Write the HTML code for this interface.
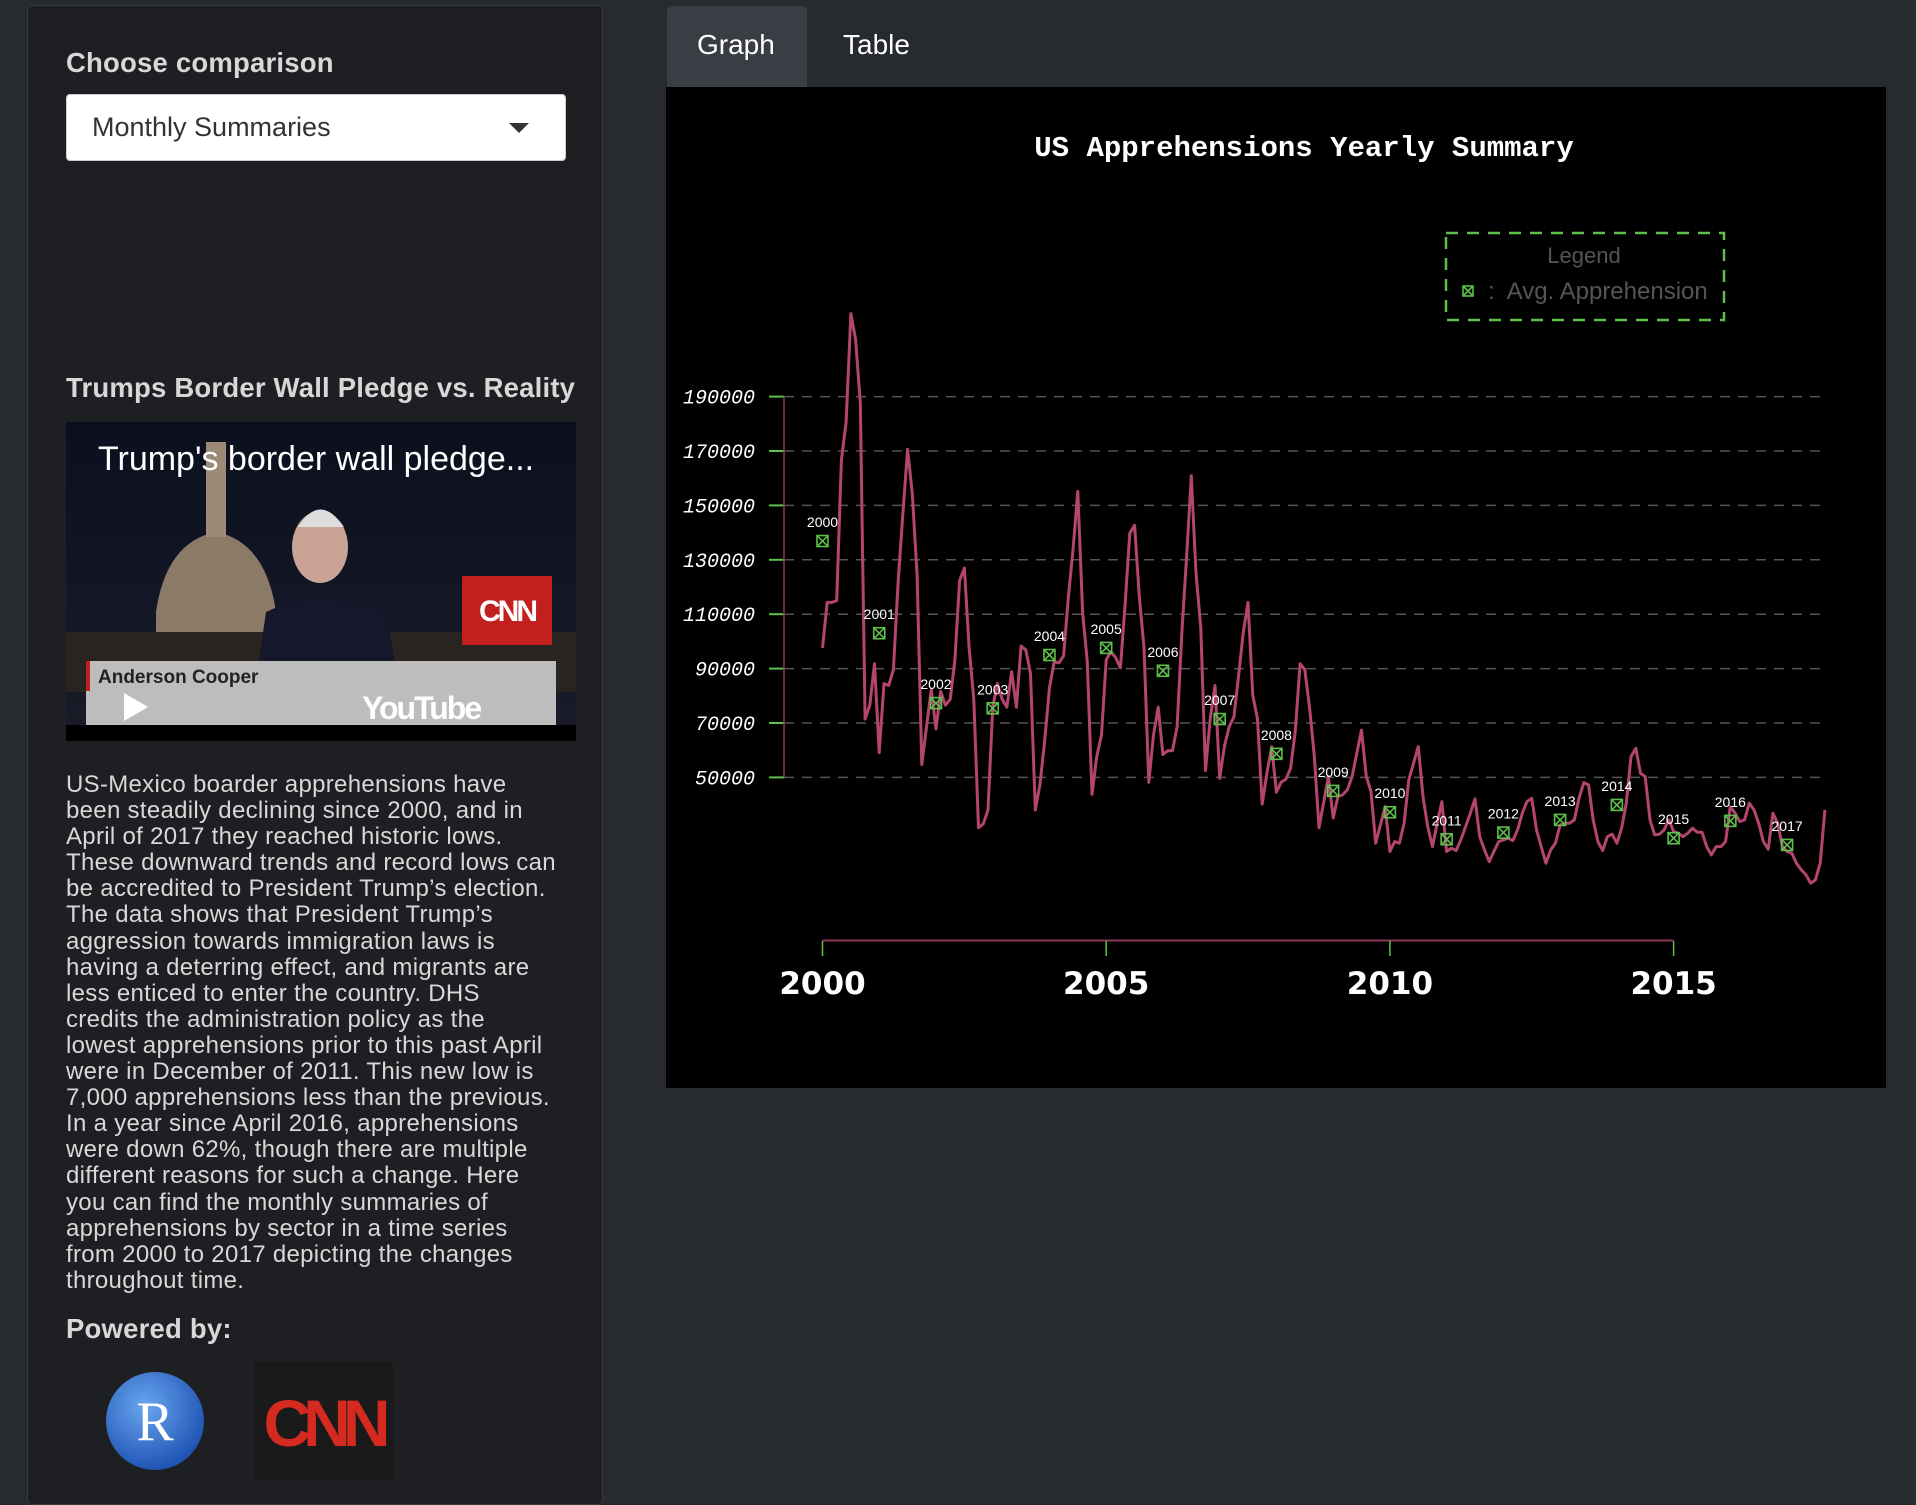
<!DOCTYPE html>
<html><head><meta charset="utf-8">
<style>
html,body{margin:0;padding:0;}
body{width:1916px;height:1492px;background:#272a2f;position:relative;overflow:hidden;font-family:"Liberation Sans",sans-serif;}
.abs{position:absolute;}
#panel{left:27px;top:5px;width:576px;height:1500px;background:#1e1f23;border:1px solid #38393d;border-radius:5px;box-sizing:border-box;}
.h{color:#d8d8d8;font-weight:bold;font-size:27.5px;letter-spacing:0.2px;}
#select{left:66px;top:94px;width:500px;height:67px;background:#fff;border-radius:4px;border:1px solid #ccc;box-sizing:border-box;}
#select span{position:absolute;left:25px;top:17px;font-size:27px;color:#333;letter-spacing:0px;}
#select i{position:absolute;right:36px;top:28px;width:0;height:0;border-left:10px solid transparent;border-right:10px solid transparent;border-top:10px solid #333;}
#para{left:66px;top:772px;width:540px;color:#d8d8d8;font-size:24px;line-height:26.1px;letter-spacing:0.3px;white-space:nowrap;}
#tabgraph{left:667px;top:6px;width:140px;height:81px;background:#3a3e44;border-radius:5px 5px 0 0;}
.tab{color:#fff;font-size:28px;letter-spacing:0px;}
#chart{left:666px;top:87px;width:1220px;height:1001px;background:#000;}
</style></head>
<body>
<div id="panel" class="abs"></div>
<div class="abs h" style="left:66px;top:47px;">Choose comparison</div>
<div id="select" class="abs"><span>Monthly Summaries</span><i></i></div>
<div class="abs h" style="left:66px;top:372px;">Trumps Border Wall Pledge vs. Reality</div>

<svg class="abs" style="left:66px;top:422px" width="510" height="319">
  <defs><linearGradient id="sky" x1="0" y1="0" x2="0" y2="1"><stop offset="0" stop-color="#0b0f1e"/><stop offset="1" stop-color="#1a1c2a"/></linearGradient></defs>
  <rect width="510" height="319" fill="url(#sky)"/>
  <path d="M90 330 L90 190 Q100 120 150 110 Q200 120 210 190 L210 330Z" fill="#8a7a66"/>
  <rect x="140" y="20" width="20" height="95" fill="#9a8a76"/>
  <rect x="0" y="210" width="510" height="60" fill="#2a2420"/>
  <path d="M180 330 L200 190 Q250 165 320 190 L345 330Z" fill="#15182a"/>
  <ellipse cx="254" cy="125" rx="28" ry="36" fill="#c9a393"/>
  <path d="M232 105 Q254 70 278 105Z" fill="#ddd"/>
  <rect x="396" y="154" width="90" height="69" fill="#c2201f"/>
  <text x="441" y="199" font-family="Liberation Sans" font-size="30" font-weight="bold" fill="#fff" text-anchor="middle" letter-spacing="-3">CNN</text>
  <rect x="20" y="239" width="470" height="64" fill="#bdbdbd"/>
  <rect x="20" y="239" width="4" height="30" fill="#c2201f"/>
  <text x="32" y="48" font-family="Liberation Sans" font-size="34" fill="#fff" letter-spacing="0">Trump's border wall pledge...</text>
  <text x="32" y="261" font-family="Liberation Sans" font-size="19" font-weight="bold" fill="#222">Anderson Cooper</text>
  <path d="M58 271 L58 299 L82 285Z" fill="#fff"/>
  <text x="296" y="297" font-family="Liberation Sans" font-size="32" font-weight="bold" fill="#fff" letter-spacing="-2">YouTube</text>
  <rect x="0" y="303" width="510" height="16" fill="#000"/>
</svg>

<div id="para" class="abs">US-Mexico boarder apprehensions have<br>been steadily declining since 2000, and in<br>April of 2017 they reached historic lows.<br>These downward trends and record lows can<br>be accredited to President Trump’s election.<br>The data shows that President Trump’s<br>aggression towards immigration laws is<br>having a deterring effect, and migrants are<br>less enticed to enter the country. DHS<br>credits the administration policy as the<br>lowest apprehensions prior to this past April<br>were in December of 2011. This new low is<br>7,000 apprehensions less than the previous.<br>In a year since April 2016, apprehensions<br>were down 62%, though there are multiple<br>different reasons for such a change. Here<br>you can find the monthly summaries of<br>apprehensions by sector in a time series<br>from 2000 to 2017 depicting the changes<br>throughout time.</div>
<div class="abs h" style="left:66px;top:1313px;">Powered by:</div>
<svg class="abs" style="left:104px;top:1370px" width="102" height="102">
  <defs><radialGradient id="rg" cx="0.4" cy="0.35" r="0.7"><stop offset="0" stop-color="#6aa6f0"/><stop offset="1" stop-color="#1a4fb0"/></radialGradient></defs>
  <circle cx="51" cy="51" r="49" fill="url(#rg)"/>
  <text x="51" y="70" font-family="Liberation Serif" font-size="56" fill="#fff" text-anchor="middle">R</text>
</svg>
<svg class="abs" style="left:254px;top:1362px" width="139" height="119">
  <rect width="139" height="119" fill="#1a1a1a"/>
  <text x="69" y="84" font-family="Liberation Sans" font-size="66" font-weight="bold" fill="#d42a20" text-anchor="middle" letter-spacing="-8">CNN</text>
</svg>

<div id="tabgraph" class="abs"></div>
<div class="abs tab" style="left:697px;top:29px;">Graph</div>
<div class="abs tab" style="left:843px;top:29px;">Table</div>
<div id="chart" class="abs"></div>

<svg id="svg" class="abs" style="left:0;top:0" width="1916" height="1492">
  <text x="1304" y="156" font-family="Liberation Mono" font-weight="bold" font-size="29" fill="#fff" text-anchor="middle">US Apprehensions Yearly Summary</text>
  <g>
    <rect x="1446" y="233" width="278" height="87" fill="none" stroke="#5cc04a" stroke-width="2.5" stroke-dasharray="12,9"/>
    <text x="1584" y="263" font-size="22" fill="#555" text-anchor="middle" font-family="Liberation Sans">Legend</text>
    <g transform="translate(1468,291)" stroke="#5cc04a" stroke-width="1.6" fill="none"><rect x="-5" y="-5" width="10" height="10"/><path d="M-5 -5L5 5M5 -5L-5 5"/></g>
    <text x="1488" y="299" font-size="24" fill="#555" font-family="Liberation Sans" xml:space="preserve">:  Avg. Apprehension</text>
  </g>
  <g id="grid"></g><g id="axes"></g><g id="series"></g><g id="marks"></g>
</svg>

<script>
const yTicks = [50000,70000,90000,110000,130000,150000,170000,190000];
const xTickYears = [2000,2005,2010,2015];
const years = [2000,2001,2002,2003,2004,2005,2006,2007,2008,2009,2010,2011,2012,2013,2014,2015,2016,2017];
const yearAvg = [136900,103000,77300,75400,95000,97600,89200,71450,58660,45030,37190,27260,29710,34370,39880,27640,34000,25180];
const monthly2000to2004 = [97600,114350,114350,115000,166700,180500,220500,211000,187800,71450,76550,91800,
59100,84500,83800,89600,122300,147100,170600,154300,124500,54700,68550,82350,
67800,81600,76550,78700,93250,122300,127000,97600,78700,31500,32900,38000,
75800,84500,78700,75800,88900,75800,98300,96900,88200,38000,47500,63500,
83100,92500,92100,94700,116500,134000,155100,110700,92500,43800,57600,65600];
const monthly2005to2009 = [93250,96200,94000,90300,113600,139800,142700,116500,97600,48200,65600,75800,
58400,59800,59800,68550,103400,131100,160900,125200,104900,52550,71450,83800,
49650,61300,68550,72200,87450,103400,114350,80200,71450,40200,51800,61300,
44550,48200,49350,53300,67100,91800,89600,75800,58400,31500,40900,50350,
35100,42950,43560,45400,50300,58900,67400,50300,44800];
const monthly2009to2017 = [25800,32500,39270,22740,26410,25800,33150,49070,55200,61320,42950,31920,24570,33150,41110,22740,23960,23100,27020,31920,36820,42090,28250,23350,19060,22740,26410,27020,27640,26780,30700,36820,41110,42330,30700,24570,18450,23350,25800,32530,33150,33150,34370,42330,48090,47230,34370,26410,23100,28250,29100,25800,31310,40500,57650,60710,51520,50300,34370,28860,29100,30700,34370,30080,29470,28250,29470,31310,29840,29840,24570,21510,24570,24570,26410,39270,36820,33760,34370,40500,38050,33150,26410,23590,36820,33150,24570,22740,22120,18450,16000,14160,11100,12320,18450,38050];
const monthly = monthly2000to2004.concat(monthly2005to2009, monthly2009to2017);

const NS='http://www.w3.org/2000/svg';
const X0=822.5, PX_YEAR=56.74, Y0=777.4, PX_PER_20K=54.4;
const xYear = y => X0 + (y-2000)*PX_YEAR;
const xMonth = m => X0 + m*PX_YEAR/12;
const yVal = v => Y0 - (v-50000)*PX_PER_20K/20000;
function mk(tag, attrs, parent){const e=document.createElementNS(NS,tag);for(const k in attrs)e.setAttribute(k,attrs[k]);parent.appendChild(e);return e;}

const grid=document.getElementById('grid'), axes=document.getElementById('axes'), series=document.getElementById('series'), marks=document.getElementById('marks');
yTicks.forEach(v=>{
  const y=yVal(v);
  const g=mk('line',{x1:784,x2:1825,y1:y,y2:y,stroke:'#555','stroke-width':1.5,'stroke-dasharray':'10,8'},grid);
  
  
  const t=mk('line',{x1:769,x2:784,y1:y,y2:y,stroke:'#5cc04a','stroke-width':2},axes);
  
  
  const l=mk('text',{x:755,y:y+7,'font-family':'Liberation Mono','font-style':'italic','font-size':20,fill:'#fff','text-anchor':'end'},axes);
  l.textContent=v;
  
  
});
const ya=mk('line',{x1:784,x2:784,y1:yVal(190000),y2:yVal(50000),stroke:'#8a3a5a','stroke-width':1.5},axes);


const xa=mk('line',{x1:xYear(2000),x2:xYear(2015),y1:940.5,y2:940.5,stroke:'#8a3a5a','stroke-width':2},axes);


xTickYears.forEach(yr=>{
  const x=xYear(yr);
  const t=mk('line',{x1:x,x2:x,y1:941,y2:956,stroke:'#5cc04a','stroke-width':1.5},axes);
  
  
  const l=mk('text',{x:x,y:994,'font-family':'DejaVu Sans','font-weight':'bold','font-size':31,fill:'#fff','text-anchor':'middle'},axes);
  l.textContent=yr;
  
  
});
const pts=monthly.map((v,i)=>xMonth(i).toFixed(1)+','+yVal(v).toFixed(1)).join(' ');
const pl=mk('polyline',{points:pts,fill:'none',stroke:'#b3456f','stroke-width':3,'stroke-linejoin':'round'},series);


years.forEach((yr,i)=>{
  const x=xYear(yr), y=yVal(yearAvg[i]);
  const g=mk('g',{transform:`translate(${x},${y})`,stroke:'#5cc04a','stroke-width':1.6,fill:'none'},marks);
  mk('rect',{x:-5.5,y:-5.5,width:11,height:11},g);
  mk('path',{d:'M-5.5 -5.5L5.5 5.5M5.5 -5.5L-5.5 5.5'},g);
  
  
  const l=mk('text',{x:x,y:y-14,'font-family':'Liberation Sans','font-size':14,fill:'#fff','text-anchor':'middle'},marks);
  l.textContent=yr;
  
  
});
</script>
</body></html>
